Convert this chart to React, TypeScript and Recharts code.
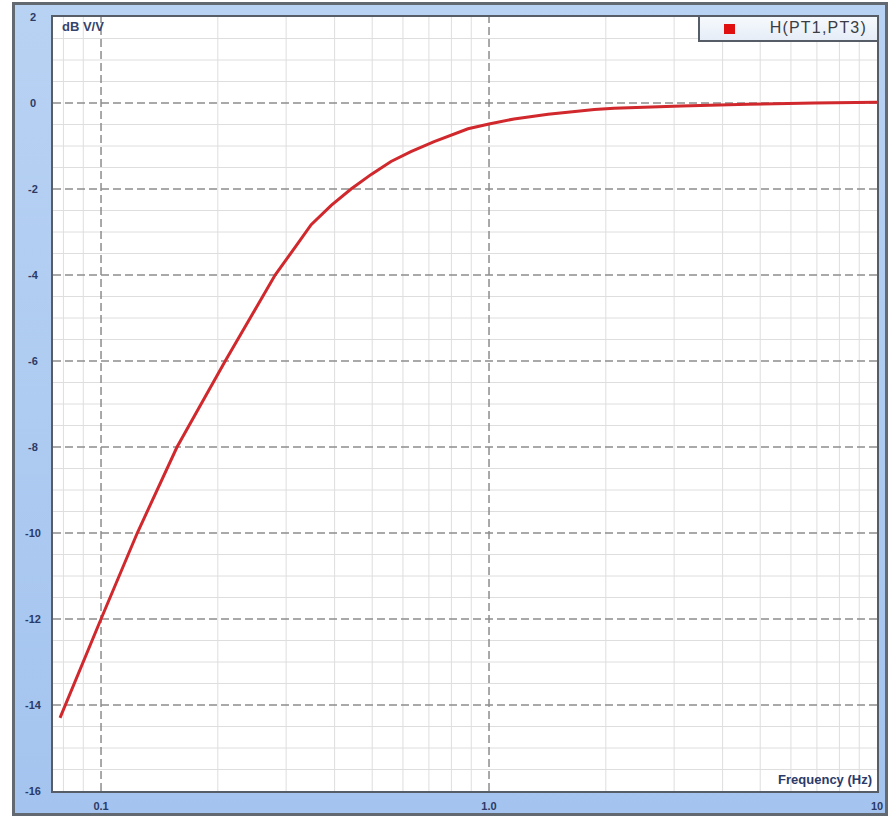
import React from 'react';
import {
    LineChart,
    Line,
    XAxis,
    YAxis,
    ReferenceLine,
} from 'recharts';

// ─── data (frequency response H(PT1,PT3)) ──────────────────────────────────
const freqHz = [
    0.0784, 0.1, 0.124, 0.157, 0.209, 0.281, 0.322, 0.348, 0.392, 0.441,
    0.497, 0.559, 0.629, 0.722, 0.883, 1.0, 1.16, 1.42, 1.87, 2.1,
    3.13, 4.65, 6.88, 10.0,
];
const gainDb = [
    -14.3, -12.0, -10.0, -8.0, -6.0, -4.0, -3.26, -2.83, -2.38, -2.0,
    -1.66, -1.36, -1.13, -0.9, -0.6, -0.49, -0.37, -0.26, -0.15, -0.12,
    -0.07, -0.03, 0.0, 0.02,
];

const xTicks = [0.1, 1, 10];
const xTickLabels = ['0.1', '1.0', '10'];
const yTicks = [2, 0, -2, -4, -6, -8, -10, -12, -14, -16];
const xMinor = [0.08, 0.09, 0.2, 0.3, 0.4, 0.5, 0.6, 0.7, 0.8, 0.9, 2, 3, 4, 5, 6, 7, 8, 9];
const yMinor = [
    1.5, 1, 0.5, -0.5, -1, -1.5, -2.5, -3, -3.5, -4.5, -5, -5.5, -6.5, -7, -7.5,
    -8.5, -9, -9.5, -10.5, -11, -11.5, -12.5, -13, -13.5, -14.5, -15, -15.5,
];
const xMajor = [0.1, 1];
const yMajor = [0, -2, -4, -6, -8, -10, -12, -14];

const data = freqHz.map((f, i) => ({ f, db: gainDb[i] }));

const TICK_COLOR = '#2c3a66';
const FONT = '"Liberation Sans", Arial, sans-serif';

const YTick = ({ y, payload }: any) => (
    <text x={33} y={y} textAnchor="middle" dominantBaseline="central"
        fill={TICK_COLOR} fontSize={11} fontWeight={700} fontFamily={FONT}>
        {payload.value}
    </text>
);

const XTick = ({ x, payload }: any) => (
    <text x={x} y={806} textAnchor="middle" dominantBaseline="central"
        fill={TICK_COLOR} fontSize={11} fontWeight={700} fontFamily={FONT}>
        {xTickLabels[xTicks.indexOf(payload.value)]}
    </text>
);

export default function App() {
    return (
        <div style={{ position: 'relative', width: 894, height: 818, fontFamily: FONT }}>
            <style>{`body{margin:0}`}</style>

            {/* outer blue frame */}
            <div style={{
                position: 'absolute', left: 12, top: 2, width: 876, height: 814,
                boxSizing: 'border-box', border: '3px solid #636970',
                background: 'linear-gradient(#b8d2f3, #a4c4ef)',
            }} />
            {/* plot background */}
            <div style={{ position: 'absolute', left: 53, top: 17, width: 824, height: 774, background: '#fff' }} />

            <LineChart
                width={894}
                height={818}
                data={data}
                margin={{ top: 17, right: 17, bottom: 7, left: 13 }}
                style={{ position: 'absolute', left: 0, top: 0 }}
            >
                <XAxis
                    dataKey="f"
                    type="number"
                    scale="log"
                    domain={[0.0752, 10]}
                    allowDataOverflow
                    ticks={xTicks}
                    height={20}
                    axisLine={false}
                    tickLine={false}
                    tick={<XTick />}
                />
                <YAxis
                    type="number"
                    domain={[-16, 2]}
                    ticks={yTicks}
                    width={40}
                    axisLine={false}
                    tickLine={false}
                    tick={<YTick />}
                />

                {xMinor.map((v) => (
                    <ReferenceLine key={`xm-${v}`} x={v} stroke="#dedede" strokeWidth={1} />
                ))}
                {yMinor.map((v) => (
                    <ReferenceLine key={`ym-${v}`} y={v} stroke="#dedede" strokeWidth={1} />
                ))}
                {xMajor.map((v) => (
                    <ReferenceLine key={`xM-${v}`} x={v} stroke="#8d8d8d" strokeWidth={1.5} strokeDasharray="8 4" />
                ))}
                {yMajor.map((v) => (
                    <ReferenceLine key={`yM-${v}`} y={v} stroke="#8d8d8d" strokeWidth={1.5} strokeDasharray="8 4" />
                ))}

                <Line
                    type="linear"
                    dataKey="db"
                    stroke="#d0282c"
                    strokeWidth={3}
                    dot={false}
                    isAnimationActive={false}
                />
            </LineChart>

            {/* plot border */}
            <div style={{
                position: 'absolute', left: 51, top: 15, width: 828, height: 778,
                boxSizing: 'border-box', border: '2px solid #575d66', pointerEvents: 'none',
            }} />

            <div style={{
                position: 'absolute', left: 62, top: 19, fontSize: 13, fontWeight: 700,
                color: '#34446e',
            }}>dB V/V</div>

            <div style={{
                position: 'absolute', right: 894 - 872, top: 772, fontSize: 13, fontWeight: 700,
                color: '#2c3a6a',
            }}>Frequency (Hz)</div>

            {/* legend */}
            <div style={{
                position: 'absolute', left: 698, top: 15, width: 181, height: 27,
                boxSizing: 'border-box', border: '2px solid #575d66',
                background: 'linear-gradient(#f6f9fd, #e6edf7)',
            }}>
                <div style={{ position: 'absolute', left: 24, top: 7, width: 11, height: 10, background: '#e01010' }} />
                <div style={{
                    position: 'absolute', right: 10, top: 2, fontSize: 16, letterSpacing: 1.2,
                    color: '#3a3d44', whiteSpace: 'nowrap',
                }}>H(PT1,PT3)</div>
            </div>
        </div>
    );
}
